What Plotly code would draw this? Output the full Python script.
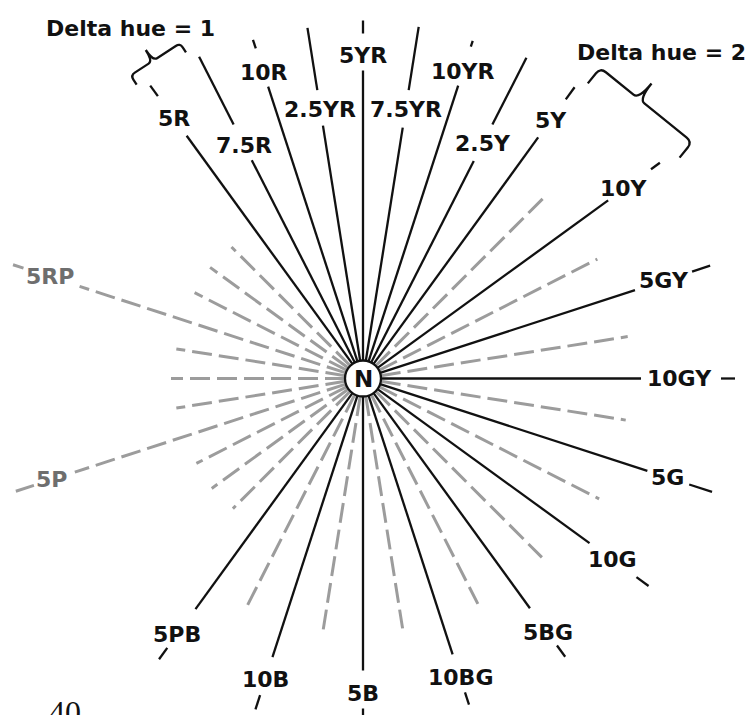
import math
import plotly.graph_objects as go

# ---------------- data ----------------
# Munsell hues drawn as solid spokes (40-hue circle, 9 degrees per 2.5 hue step)
solid_hues = ["5R", "7.5R", "10R", "2.5YR", "5YR", "7.5YR", "10YR", "2.5Y", "5Y",
              "10Y", "5GY", "10GY", "5G", "10G", "5BG", "10BG", "5B", "10B", "5PB"]
solid_angles = [126, 117, 108, 99, 90, 81, 72, 63, 54,
                36, 18, 0, -18, -36, -54, -72, -90, -108, -126]
# labelled dashed (grey) hues
grey_hues = ["5RP", "5P"]
grey_hue_angles = [162, 198]
# unlabelled dashed (grey) hues
grey_angles = [45, 27, 9, -9, -27, -45, -63, -81, -99, -117,
               135, 144, 153, 171, 180, 189, 207, 216, 225]
hue_count_text = "40"
brace_texts = ["Delta hue = 1", "Delta hue = 2"]

# ---------------- layout geometry (pixels from centre N) ----------------
R0 = 18
solid_line_end = [300, 245, 307, 256, 308, 254, 308, 244, 298,
                  303, 286, 278, 299, 280, 284, 290, 292, 293, 285]
solid_label_r = [321, 262, 322, 272, 323, 272, 323, 264, 319,
                 323, 316, 316, 320, 308, 314, 314, 315, 317, 316]
solid_tail = [(349, 362), (285, 361), (347, 356), (292, 355), (345, 358), (292, 356),
              (349, 355), (285, 360), (345, 360), (356, 367), (346, 365), (358, 372),
              (343, 367), (338, 353), (330, 344), (330, 343), (330, 345), (333, 348),
              (333, 347)]
grey_len = [255, 263, 268, 266, 265, 253, 253, 253, 255, 256,
            186, 189, 189, 189, 192, 189, 187, 187, 184]
grey_hue_line_end = [298, 303]
grey_hue_label_r = [329, 328]
grey_hue_tail = [(357, 368), (346, 365)]

CX, CY = 363, 378.5  # centre pixel
W, H = 751, 715


def pol(r, a):
    t = math.radians(a)
    return r * math.cos(t), r * math.sin(t)


def px(x_pix, y_pix):
    return x_pix - CX, CY - y_pix


fig = go.Figure()

# grey dashed spokes
gx, gy = [], []
for a, L in zip(grey_angles, grey_len):
    for r in (R0, L):
        x, y = pol(r, a)
        gx.append(x); gy.append(y)
    gx.append(None); gy.append(None)
for a, le, (t0, t1) in zip(grey_hue_angles, grey_hue_line_end, grey_hue_tail):
    for seg in ((R0, le), (t0, t1)):
        for r in seg:
            x, y = pol(r, a)
            gx.append(x); gy.append(y)
        gx.append(None); gy.append(None)
fig.add_trace(go.Scatter(x=gx, y=gy, mode="lines", hoverinfo="skip",
                         line=dict(color="#9c9c9c", width=3, dash="20px,7px")))

# solid spokes
sx, sy = [], []
for a, le, (t0, t1) in zip(solid_angles, solid_line_end, solid_tail):
    for seg in ((R0, le), (t0, t1)):
        for r in seg:
            x, y = pol(r, a)
            sx.append(x); sy.append(y)
        sx.append(None); sy.append(None)
fig.add_trace(go.Scatter(x=sx, y=sy, mode="lines", hoverinfo="skip",
                         line=dict(color="#111111", width=2.3)))

annotations = []
FONT = "DejaVu Sans"
for name, a, r in zip(solid_hues, solid_angles, solid_label_r):
    x, y = pol(r, a)
    annotations.append(dict(x=x, y=y, text="<b>%s</b>" % name, showarrow=False,
                            xanchor="center", yanchor="middle",
                            font=dict(family=FONT, size=22, color="#111111")))
for name, a, r in zip(grey_hues, grey_hue_angles, grey_hue_label_r):
    x, y = pol(r, a)
    annotations.append(dict(x=x, y=y, text="<b>%s</b>" % name, showarrow=False,
                            xanchor="center", yanchor="middle",
                            font=dict(family=FONT, size=22, color="#6e6e6e")))


def brace_path(p1, p2, depth, tip, frac, rad=6.0):
    dx, dy = p2[0] - p1[0], p2[1] - p1[1]
    L = math.hypot(dx, dy)
    ux, uy = dx / L, dy / L
    nx, ny = -uy, ux
    mx, my = (p1[0] + p2[0]) / 2, (p1[1] + p2[1]) / 2
    if nx * mx + ny * my < 0:
        nx, ny = -nx, -ny
    B = (p1[0] + depth * nx, p1[1] + depth * ny)
    C = (p1[0] + frac * L * ux + depth * nx, p1[1] + frac * L * uy + depth * ny)
    T = (C[0] + tip * nx, C[1] + tip * ny)
    D = (p2[0] + depth * nx, p2[1] + depth * ny)

    def f(p):
        return "%.2f,%.2f" % p
    path = "M " + f(p1)
    path += " L " + f((B[0] - rad * nx, B[1] - rad * ny))
    path += " Q " + f(B) + " " + f((B[0] + rad * ux, B[1] + rad * uy))
    path += " L " + f((C[0] - rad * ux, C[1] - rad * uy))
    path += " Q " + f(C) + " " + f(T)
    path += " Q " + f(C) + " " + f((C[0] + rad * ux, C[1] + rad * uy))
    path += " L " + f((D[0] - rad * ux, D[1] - rad * uy))
    path += " Q " + f(D) + " " + f((D[0] - rad * nx, D[1] - rad * ny))
    path += " L " + f(p2)
    return path, T


shapes = []
# brace for delta hue = 1 (between 5R and 7.5R) and delta hue = 2 (between 5Y and 10Y)
b1, t1 = brace_path(pol(371, 127.6), pol(371, 118.5), 11, 13, 0.45, rad=5)
b2, t2 = brace_path(pol(371, 52.7), pol(386, 34.9), 20, 20, 0.42, rad=7)
for p in (b1, b2):
    shapes.append(dict(type="path", path=p, xref="x", yref="y",
                       line=dict(color="#111111", width=2.3), layer="above"))

bx, by = px(130, 28)
annotations.append(dict(x=bx, y=by, text="<b>%s</b>" % brace_texts[0], showarrow=False,
                        xanchor="center", yanchor="middle",
                        font=dict(family=FONT, size=22, color="#111111")))
bx, by = px(661, 52)
annotations.append(dict(x=bx, y=by, text="<b>%s</b>" % brace_texts[1], showarrow=False,
                        xanchor="center", yanchor="middle",
                        font=dict(family=FONT, size=22, color="#111111")))

# centre circle N
shapes.append(dict(type="circle", xref="x", yref="y", x0=-18, x1=18, y0=-18, y1=18,
                   fillcolor="white", line=dict(color="#111111", width=2.3), layer="above"))
annotations.append(dict(x=0, y=0, text="<b>N</b>", showarrow=False,
                        xanchor="center", yanchor="middle",
                        font=dict(family=FONT, size=23, color="#111111")))

# "40" at bottom-left (partly cut by the bottom edge, as in the original)
fx, fy = px(65, 712)
annotations.append(dict(x=fx, y=fy, text=hue_count_text, showarrow=False,
                        xanchor="center", yanchor="middle",
                        font=dict(family="Liberation Serif", size=32, color="#111111")))

x_range = [0 - CX, W - CX]
y_range = [CY - H, CY]
fig.update_layout(
    width=W, height=H, autosize=False,
    margin=dict(l=0, r=0, t=0, b=0),
    paper_bgcolor="white", plot_bgcolor="white",
    showlegend=False,
    xaxis=dict(range=x_range, visible=False, fixedrange=True),
    yaxis=dict(range=y_range, visible=False, fixedrange=True),
    shapes=shapes, annotations=annotations,
)

fig.write_html("out.html", config={"displayModeBar": False},
               post_script="document.body.style.margin='0';")
